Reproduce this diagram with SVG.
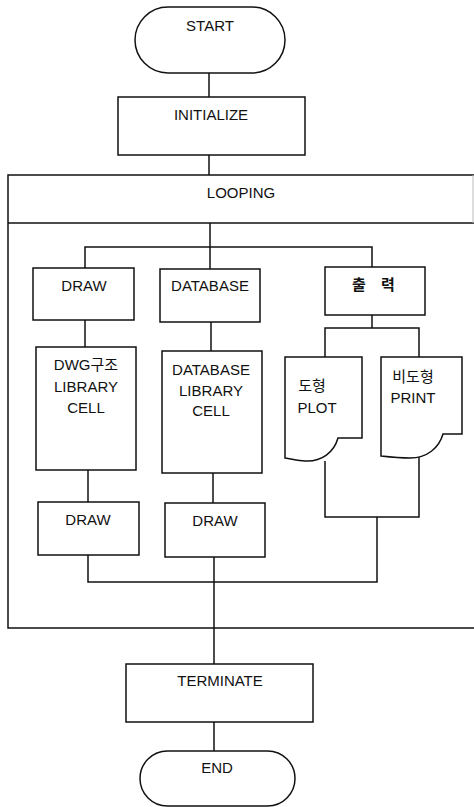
<svg xmlns="http://www.w3.org/2000/svg" width="474" height="807" viewBox="0 0 474 807">
<style>
.s{fill:#fff;stroke:#111;stroke-width:1.5}
.c{fill:none;stroke:#111;stroke-width:1.5}
.t{font-family:"Liberation Sans","Noto Sans CJK KR",Arial,sans-serif;font-size:15px;fill:#111;text-anchor:middle}
.k{font-family:"Liberation Sans","Noto Sans CJK KR",sans-serif;font-size:15px;fill:#111;font-weight:bold}
</style>
<rect width="474" height="807" fill="#fff"/>
<g id="looping">
<path class="c" d="M474,175 H8 V628 H474"/>
<path class="c" d="M8,223 H474"/>
<path d="M473,175 V223" stroke="#bbb" stroke-width="1" fill="none"/>
<text class="t" x="241" y="198">LOOPING</text>
</g>
<g id="connectors">
<path class="c" d="M209,73 V97"/>
<path class="c" d="M209,155 V175"/>
<path class="c" d="M210,223 V247"/>
<path class="c" d="M85,268 V247 H372 V267"/>
<path class="c" d="M210,247 V269"/>
<path class="c" d="M85,320 V347"/>
<path class="c" d="M211,322 V351"/>
<path class="c" d="M372,315 V328"/>
<path class="c" d="M325,357 V328 H419 V357"/>
<path class="c" d="M88,470 V502"/>
<path class="c" d="M213,473 V503"/>
<path class="c" d="M325,461 V517 H419 V457"/>
<path class="c" d="M377,517 V582 H88 V555"/>
<path class="c" d="M214,557 V664"/>
<path class="c" d="M214,722 V751"/>
</g>
<g id="start">
<rect class="s" x="135" y="7" width="150" height="66" rx="33" ry="33"/>
<text class="t" x="210" y="31">START</text>
</g>
<g id="initialize">
<rect class="s" x="118" y="97" width="187" height="58"/>
<text class="t" x="211" y="120">INITIALIZE</text>
</g>
<g id="draw1">
<rect class="s" x="33" y="268" width="101" height="52"/>
<text class="t" x="84" y="291">DRAW</text>
</g>
<g id="database">
<rect class="s" x="160" y="269" width="100" height="53"/>
<text class="t" x="210" y="291">DATABASE</text>
</g>
<g id="output">
<rect class="s" x="325" y="267" width="100" height="48"/>
<text class="k" x="352" y="290" word-spacing="11">출 력</text>
</g>
<g id="dwg">
<rect class="s" x="36" y="347" width="100" height="123"/>
<text class="t" x="86" y="370">DWG구조</text>
<text class="t" x="86" y="392">LIBRARY</text>
<text class="t" x="86" y="413">CELL</text>
</g>
<g id="dblib">
<rect class="s" x="162" y="351" width="100" height="122"/>
<text class="t" x="211" y="375">DATABASE</text>
<text class="t" x="211" y="396">LIBRARY</text>
<text class="t" x="211" y="416">CELL</text>
</g>
<g id="plot">
<path class="s" d="M285,357 H362 V438 H338 C334,452 322,462 305,461 C298,461 292,459 285,458 Z"/>
<text class="t" x="312" y="391">도형</text>
<text class="t" x="317" y="413">PLOT</text>
</g>
<g id="print">
<path class="s" d="M381,357 H462 V434 H443 C439,448 427,458 410,458 C400,458 390,457 381,456 Z"/>
<text class="t" x="413" y="382">비도형</text>
<text class="t" x="413" y="403">PRINT</text>
</g>
<g id="draw2">
<rect class="s" x="38" y="502" width="101" height="53"/>
<text class="t" x="88" y="525">DRAW</text>
</g>
<g id="draw3">
<rect class="s" x="165" y="503" width="100" height="54"/>
<text class="t" x="215" y="526">DRAW</text>
</g>
<g id="terminate">
<rect class="s" x="126" y="664" width="187" height="58"/>
<text class="t" x="220" y="686">TERMINATE</text>
</g>
<g id="end">
<rect class="s" x="140" y="751" width="155" height="55" rx="27.5" ry="27.5"/>
<text class="t" x="217" y="773">END</text>
</g>
</svg>
